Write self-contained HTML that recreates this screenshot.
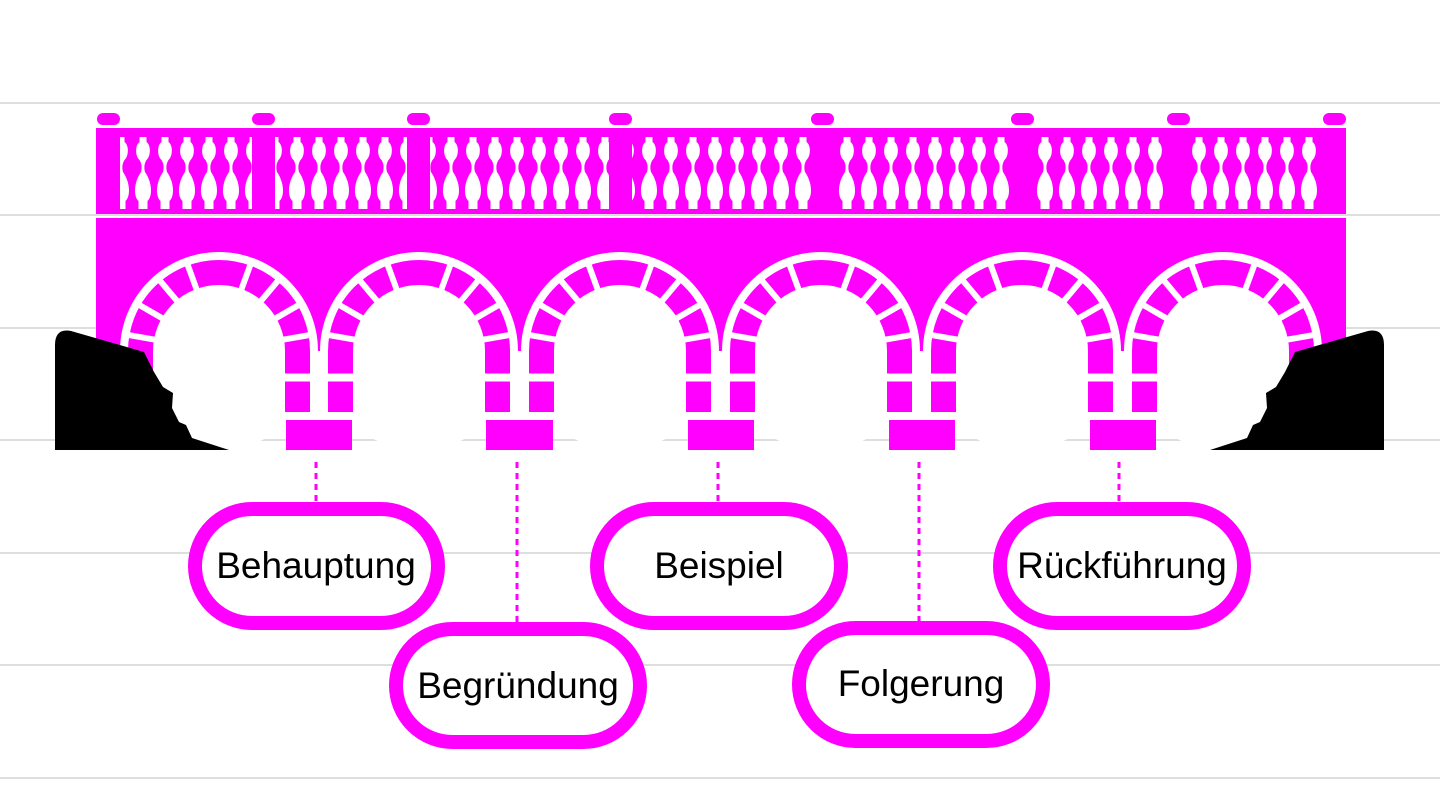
<!DOCTYPE html>
<html><head><meta charset="utf-8"><style>
html,body{margin:0;padding:0;background:#fff;}
svg{display:block;}
text{font-family:"Liberation Sans","DejaVu Sans",sans-serif;font-size:37px;fill:#000;}
</style></head><body>
<svg width="1440" height="810" viewBox="0 0 1440 810" xmlns="http://www.w3.org/2000/svg">
<defs>
<pattern id="bal" patternUnits="userSpaceOnUse" x="0" y="0" width="22" height="810">
<path fill="#fff" d="M7.5,137 L14.5,137 L14.5,142 C19,145 19,156 14.5,160 C12,164 12,168 13,172 C20,182 21,196 15.5,201 L15.5,209 L6.5,209 L6.5,201 C1,196 2,182 9,172 C10,168 10,164 7.5,160 C3,156 3,145 7.5,142 Z"/>
</pattern>
</defs>
<g stroke="#dedede" stroke-width="2">
<line x1="0" y1="103" x2="1440" y2="103"/><line x1="0" y1="215" x2="1440" y2="215"/>
<line x1="0" y1="328" x2="1440" y2="328"/><line x1="0" y1="440" x2="1440" y2="440"/>
<line x1="0" y1="553" x2="1440" y2="553"/><line x1="0" y1="665" x2="1440" y2="665"/>
<line x1="0" y1="778" x2="1440" y2="778"/>
</g>
<rect x="96" y="128" width="1250" height="86" fill="#ff00ff"/>
<g fill="#ff00ff">
<rect x="97" y="113" width="23" height="12" rx="6"/><rect x="252" y="113" width="23" height="12" rx="6"/>
<rect x="407" y="113" width="23" height="12" rx="6"/><rect x="609" y="113" width="23" height="12" rx="6"/>
<rect x="811" y="113" width="23" height="12" rx="6"/><rect x="1011" y="113" width="23" height="12" rx="6"/>
<rect x="1167" y="113" width="23" height="12" rx="6"/><rect x="1323" y="113" width="23" height="12" rx="6"/>
</g>
<g fill="url(#bal)">
<rect x="120" y="136" width="132" height="73"/><rect x="275" y="136" width="132" height="73"/>
<rect x="430" y="136" width="179" height="73"/><rect x="632" y="136" width="179" height="73"/>
<rect x="834" y="136" width="177" height="73"/><rect x="1034" y="136" width="133" height="73"/>
<rect x="1190" y="136" width="133" height="73"/>
</g>
<rect x="96" y="218" width="1250" height="133" fill="#ff00ff"/>
<g fill="#fff">
<circle cx="219" cy="351" r="99"/><circle cx="419" cy="351" r="99"/><circle cx="620" cy="351" r="99"/>
<circle cx="821" cy="351" r="99"/><circle cx="1022" cy="351" r="99"/><circle cx="1223" cy="351" r="99"/>
</g>
<g fill="none" stroke="#ff00ff" stroke-width="25">
<path d="M140.5,351 A78.5,78.5 0 0 1 297.5,351"/><path d="M340.5,351 A78.5,78.5 0 0 1 497.5,351"/>
<path d="M541.5,351 A78.5,78.5 0 0 1 698.5,351"/><path d="M742.5,351 A78.5,78.5 0 0 1 899.5,351"/>
<path d="M943.5,351 A78.5,78.5 0 0 1 1100.5,351"/><path d="M1144.5,351 A78.5,78.5 0 0 1 1301.5,351"/>
</g>
<g fill="#ff00ff">
<rect x="128" y="351" width="25" height="61"/><rect x="285" y="351" width="25" height="61"/>
<rect x="328" y="351" width="25" height="61"/><rect x="485" y="351" width="25" height="61"/>
<rect x="529" y="351" width="25" height="61"/><rect x="686" y="351" width="25" height="61"/>
<rect x="730" y="351" width="25" height="61"/><rect x="887" y="351" width="25" height="61"/>
<rect x="931" y="351" width="25" height="61"/><rect x="1088" y="351" width="25" height="61"/>
<rect x="1132" y="351" width="25" height="61"/><rect x="1289" y="351" width="25" height="61"/>
<rect x="286" y="420" width="66" height="30"/><rect x="486" y="420" width="67" height="30"/>
<rect x="688" y="420" width="66" height="30"/><rect x="889" y="420" width="66" height="30"/>
<rect x="1090" y="420" width="66" height="30"/>
</g>
<line x1="0" y1="377.5" x2="1440" y2="377.5" stroke="#fff" stroke-width="8"/>
<g stroke="#fff" stroke-width="6">
<g transform="translate(219,351)"><line x1="-64" y1="-11.3" x2="-94" y2="-16.6"/><line x1="-56.3" y1="-32.5" x2="-82.3" y2="-47.5"/><line x1="-41.8" y1="-49.8" x2="-61.1" y2="-72.8"/><line x1="-22.2" y1="-61.1" x2="-32.5" y2="-89.3"/><line x1="64" y1="-11.3" x2="94" y2="-16.6"/><line x1="56.3" y1="-32.5" x2="82.3" y2="-47.5"/><line x1="41.8" y1="-49.8" x2="61.1" y2="-72.8"/><line x1="22.2" y1="-61.1" x2="32.5" y2="-89.3"/></g>
<g transform="translate(419,351)"><line x1="-64" y1="-11.3" x2="-94" y2="-16.6"/><line x1="-56.3" y1="-32.5" x2="-82.3" y2="-47.5"/><line x1="-41.8" y1="-49.8" x2="-61.1" y2="-72.8"/><line x1="-22.2" y1="-61.1" x2="-32.5" y2="-89.3"/><line x1="64" y1="-11.3" x2="94" y2="-16.6"/><line x1="56.3" y1="-32.5" x2="82.3" y2="-47.5"/><line x1="41.8" y1="-49.8" x2="61.1" y2="-72.8"/><line x1="22.2" y1="-61.1" x2="32.5" y2="-89.3"/></g>
<g transform="translate(620,351)"><line x1="-64" y1="-11.3" x2="-94" y2="-16.6"/><line x1="-56.3" y1="-32.5" x2="-82.3" y2="-47.5"/><line x1="-41.8" y1="-49.8" x2="-61.1" y2="-72.8"/><line x1="-22.2" y1="-61.1" x2="-32.5" y2="-89.3"/><line x1="64" y1="-11.3" x2="94" y2="-16.6"/><line x1="56.3" y1="-32.5" x2="82.3" y2="-47.5"/><line x1="41.8" y1="-49.8" x2="61.1" y2="-72.8"/><line x1="22.2" y1="-61.1" x2="32.5" y2="-89.3"/></g>
<g transform="translate(821,351)"><line x1="-64" y1="-11.3" x2="-94" y2="-16.6"/><line x1="-56.3" y1="-32.5" x2="-82.3" y2="-47.5"/><line x1="-41.8" y1="-49.8" x2="-61.1" y2="-72.8"/><line x1="-22.2" y1="-61.1" x2="-32.5" y2="-89.3"/><line x1="64" y1="-11.3" x2="94" y2="-16.6"/><line x1="56.3" y1="-32.5" x2="82.3" y2="-47.5"/><line x1="41.8" y1="-49.8" x2="61.1" y2="-72.8"/><line x1="22.2" y1="-61.1" x2="32.5" y2="-89.3"/></g>
<g transform="translate(1022,351)"><line x1="-64" y1="-11.3" x2="-94" y2="-16.6"/><line x1="-56.3" y1="-32.5" x2="-82.3" y2="-47.5"/><line x1="-41.8" y1="-49.8" x2="-61.1" y2="-72.8"/><line x1="-22.2" y1="-61.1" x2="-32.5" y2="-89.3"/><line x1="64" y1="-11.3" x2="94" y2="-16.6"/><line x1="56.3" y1="-32.5" x2="82.3" y2="-47.5"/><line x1="41.8" y1="-49.8" x2="61.1" y2="-72.8"/><line x1="22.2" y1="-61.1" x2="32.5" y2="-89.3"/></g>
<g transform="translate(1223,351)"><line x1="-64" y1="-11.3" x2="-94" y2="-16.6"/><line x1="-56.3" y1="-32.5" x2="-82.3" y2="-47.5"/><line x1="-41.8" y1="-49.8" x2="-61.1" y2="-72.8"/><line x1="-22.2" y1="-61.1" x2="-32.5" y2="-89.3"/><line x1="64" y1="-11.3" x2="94" y2="-16.6"/><line x1="56.3" y1="-32.5" x2="82.3" y2="-47.5"/><line x1="41.8" y1="-49.8" x2="61.1" y2="-72.8"/><line x1="22.2" y1="-61.1" x2="32.5" y2="-89.3"/></g>
</g>
<path fill="#000" d="M1368,331 Q1384,328 1384,345 L1384,450 L1210,450 L1247,438 L1253,425 L1260,422 L1267,408 L1266,393 L1276,387 L1285,372 L1295,352 Z"/>
<path fill="#000" d="M71,331 Q55,328 55,345 L55,450 L229,450 L192,438 L186,425 L179,422 L172,408 L173,393 L163,387 L154,372 L144,352 Z"/>
<g stroke="#ff00ff" stroke-width="3" stroke-dasharray="6,5">
<line x1="316" y1="462" x2="316" y2="503"/><line x1="517" y1="462" x2="517" y2="623"/>
<line x1="718" y1="462" x2="718" y2="503"/><line x1="919" y1="462" x2="919" y2="622"/>
<line x1="1119" y1="462" x2="1119" y2="503"/>
</g>
<g fill="#fff" stroke="#ff00ff" stroke-width="14">
<rect x="195" y="509" width="243" height="114" rx="57"/>
<rect x="396" y="629" width="244" height="113" rx="56.5"/>
<rect x="597" y="509" width="244" height="114" rx="57"/>
<rect x="799" y="628" width="244" height="113" rx="56.5"/>
<rect x="1000" y="509" width="244" height="114" rx="57"/>
</g>
<g text-anchor="middle">
<text x="316" y="578">Behauptung</text>
<text x="518" y="698">Begründung</text>
<text x="719" y="578">Beispiel</text>
<text x="921" y="696">Folgerung</text>
<text x="1122" y="578">Rückführung</text>
</g>
</svg>
</body></html>
